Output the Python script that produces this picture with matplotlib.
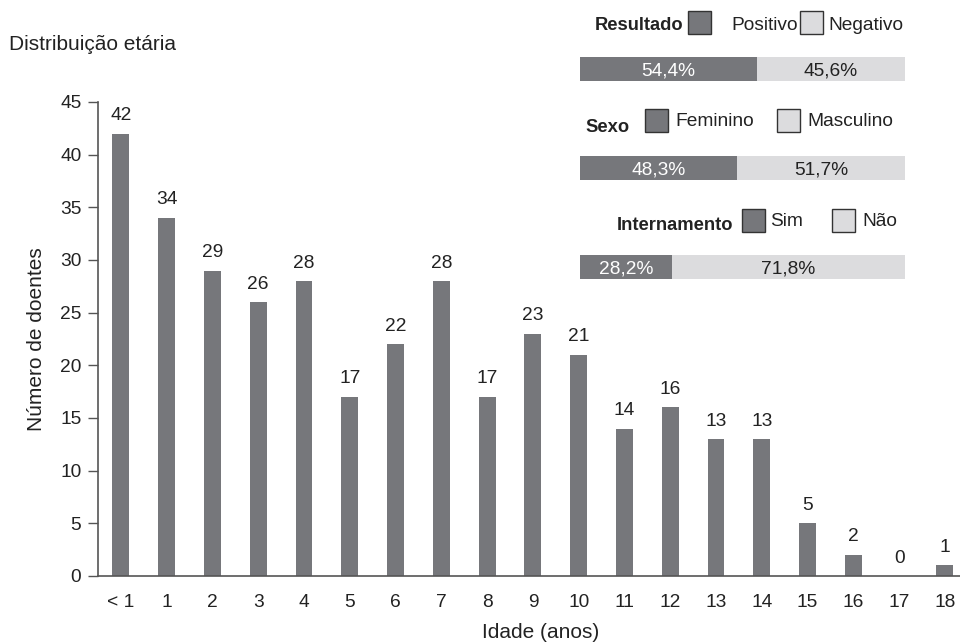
import matplotlib
matplotlib.use("Agg")
import matplotlib.pyplot as plt
from matplotlib.patches import Rectangle

plt.rcParams["font.family"] = ["Liberation Sans", "DejaVu Sans"]

# age distribution
AGES = ["< 1"] + [str(i) for i in range(1, 19)]
COUNTS = [42, 34, 29, 26, 28, 17, 22, 28, 17, 23, 21, 14, 16, 13, 13, 5, 2, 0, 1]

# summary proportions (%)
GROUPS = ["Resultado", "Sexo", "Internamento"]
CAT_A = ["Positivo", "Feminino", "Sim"]
CAT_B = ["Negativo", "Masculino", "Não"]
PCT_A = [54.4, 48.3, 28.2]
PCT_B = [45.6, 51.7, 71.8]

DARK = "#76777b"
LIGHT = "#dcdcde"
TXT = "#222222"
W, H = 960, 642
FS_NUM = 13.8
FS_LAB = 15

fig = plt.figure(figsize=(W / 100, H / 100), dpi=100)

# main bar chart, positioned in pixel units
left, right, bottom, top = 98, 960, 642 - 576, 642 - 102
ax = fig.add_axes([left / W, bottom / H, (right - left) / W, (top - bottom) / H])
x = list(range(len(AGES)))
ax.bar(x, COUNTS, width=0.37, color=DARK, zorder=2)
for xi, v in zip(x, COUNTS):
    ax.text(xi, v + 0.9, f"{v}", ha="center", va="bottom", fontsize=FS_NUM, color=TXT)
ax.set_ylim(0, 45)
ax.set_xlim(-0.5, 18.33)
ax.set_yticks(range(0, 46, 5))
ax.set_xticks(x, AGES)
for s in ("top", "right"):
    ax.spines[s].set_visible(False)
for s in ("left", "bottom"):
    ax.spines[s].set_color("#555555")
    ax.spines[s].set_linewidth(1.2)
ax.tick_params(axis="y", length=7, width=1.0, color="#555555", labelsize=FS_NUM,
               labelcolor=TXT, pad=5)
ax.tick_params(axis="x", length=0, labelsize=FS_NUM, labelcolor=TXT, pad=13)
ax.set_ylabel("Número de doentes", fontsize=FS_LAB, color=TXT, labelpad=10)
ax.set_xlabel("Idade (anos)", fontsize=FS_LAB, color=TXT, va="center")
ax.xaxis.set_label_coords((541 - left) / (right - left), -(632 - 576) / (576 - 102))
fig.text(9 / W, 1 - 44 / H, "Distribuição etária", fontsize=FS_LAB, color=TXT,
         va="center", ha="left")

# overlay in pixel coordinates for the summary block
ov = fig.add_axes([0, 0, 1, 1])
ov.set_xlim(0, W)
ov.set_ylim(H, 0)
ov.axis("off")

bar_x0, bar_w, bar_h = 580, 325, 24
bar_y = [57, 156, 255]
box_y = [11, 109, 209]
title_y = [26, 127, 225]
label_y = [25, 122, 221]
title_x = [683, 630, 733]
box_a = [688, 645, 742]
box_b = [800, 777, 832]
lab_a_x = [731, 675, 770]
lab_b_x = [828, 807, 862]

for i in range(len(GROUPS)):
    wa = bar_w * PCT_A[i] / 100
    wb = bar_w * PCT_B[i] / 100
    ov.add_patch(Rectangle((bar_x0, bar_y[i]), wa, bar_h, color=DARK, lw=0))
    ov.add_patch(Rectangle((bar_x0 + wa, bar_y[i]), wb, bar_h, color=LIGHT, lw=0))
    ov.text(bar_x0 + wa / 2, bar_y[i] + bar_h / 2 + 2, f"{PCT_A[i]:.1f}%".replace(".", ","),
            ha="center", va="center", fontsize=FS_NUM, color="white")
    ov.text(bar_x0 + wa + wb / 2, bar_y[i] + bar_h / 2 + 2, f"{PCT_B[i]:.1f}%".replace(".", ","),
            ha="center", va="center", fontsize=FS_NUM, color=TXT)

    ov.text(title_x[i], title_y[i], GROUPS[i], ha="right", va="center", fontsize=13.2,
            fontweight="bold", color=TXT)
    ov.add_patch(Rectangle((box_a[i], box_y[i]), 23, 23, facecolor=DARK,
                           edgecolor="#333333", lw=1.0))
    ov.add_patch(Rectangle((box_b[i], box_y[i]), 23, 23, facecolor=LIGHT,
                           edgecolor="#333333", lw=1.0))
    ov.text(lab_a_x[i], label_y[i], CAT_A[i], ha="left", va="center",
            fontsize=FS_NUM, color=TXT)
    ov.text(lab_b_x[i], label_y[i], CAT_B[i], ha="left", va="center",
            fontsize=FS_NUM, color=TXT)

fig.savefig("out.png", dpi=100)
